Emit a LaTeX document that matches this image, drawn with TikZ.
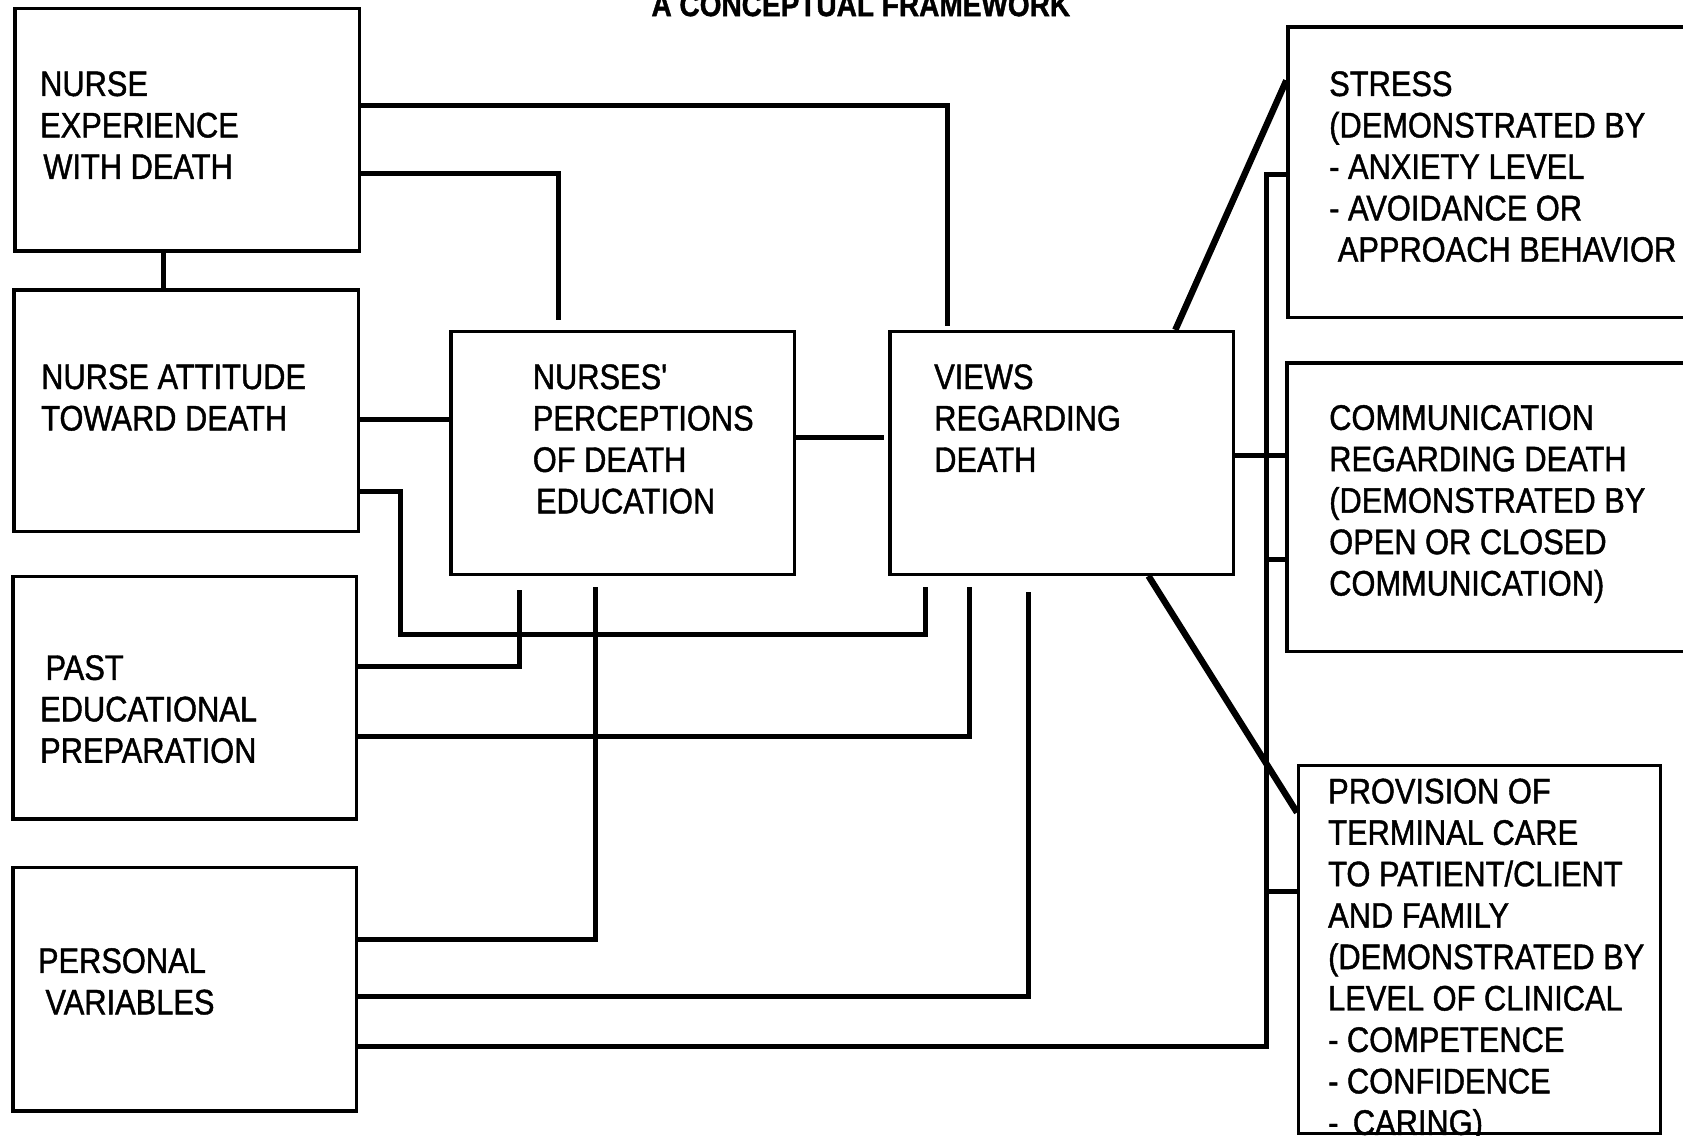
\documentclass[tikz,border=0pt]{standalone}
\usepackage{fontspec}
\setmainfont{Liberation Sans}[FakeStretch=0.87,FakeBold=1.2]
\begin{document}
\begin{tikzpicture}[x=0.5pt,y=-0.5pt,
  box/.style={draw, line width=1.6pt, inner sep=0pt},
  lbl/.style={anchor=north west, inner sep=0pt, align=left, font=\fontsize{16.5}{19.3}\selectfont},
  wire/.style={line width=2.3pt},
  diag/.style={line width=3pt}]
\useasboundingbox (0,0) rectangle (1568,1058);
\fill[white] (0,0) rectangle (1568,1058);
% title
\node[font=\fontsize{15}{15}\selectfont\bfseries, anchor=base, inner sep=0pt] (title) at (802,15) {A CONCEPTUAL FRAMEWORK};
% boxes
\node[box, minimum width=160.5pt, minimum height=113pt] (A) at (174.5,121) {};
\node[box, minimum width=160.5pt, minimum height=112.5pt] (B) at (173.5,382.5) {};
\node[box, minimum width=160pt, minimum height=113pt] (C) at (172,650) {};
\node[box, minimum width=160pt, minimum height=113.5pt] (D) at (172,921.5) {};
\node[box, minimum width=160pt, minimum height=113pt] (E) at (580,422) {};
\node[box, minimum width=160pt, minimum height=113pt] (F) at (989,422) {};
\node[box, minimum width=195pt, minimum height=135.5pt] (G) at (1395,160.5) {};
\node[box, minimum width=195.5pt, minimum height=134.5pt] (H) at (1394.5,472.5) {};
\node[box, minimum width=168.5pt, minimum height=171.5pt] (I) at (1378.5,884.5) {};
% texts
\node[lbl] (At) at (37,66) {NURSE\\EXPERIENCE\\\hspace*{1.5pt}WITH DEATH};
\node[lbl] (Bt) at (38,339) {NURSE ATTITUDE\\TOWARD DEATH};
\node[lbl] (Ct) at (37,610) {\hspace*{2.5pt}PAST\\EDUCATIONAL\\PREPARATION};
\node[lbl] (Dt) at (35,883) {PERSONAL\\\hspace*{3.5pt}VARIABLES};
\node[lbl] (Et) at (496,339) {NURSES\textquotesingle\\PERCEPTIONS\\OF DEATH\\\hspace*{1.5pt}EDUCATION};
\node[lbl] (Ft) at (870,339) {VIEWS\\REGARDING\\DEATH};
\node[lbl] (Gt) at (1238,66) {STRESS\\(DEMONSTRATED BY\\- ANXIETY LEVEL\\- AVOIDANCE OR\\\hspace*{4pt}APPROACH BEHAVIOR};
\node[lbl] (Ht) at (1238,377) {COMMUNICATION\\REGARDING DEATH\\(DEMONSTRATED BY\\OPEN OR CLOSED\\COMMUNICATION)};
\node[lbl] (It) at (1237,725) {PROVISION OF\\TERMINAL CARE\\TO PATIENT/CLIENT\\AND FAMILY\\(DEMONSTRATED BY\\LEVEL OF CLINICAL\\- COMPETENCE\\- CONFIDENCE\\- \,CARING)};
% connectors
\draw[wire, shorten >=2pt] (A.east |- 0,98) -| (883,0 |- F.north);
\draw[wire, shorten >=4.5pt] (A.east |- 0,162) -| (520,0 |- E.north);
\draw[wire] (A.south -| 152,0) -- (B.north -| 152,0);
\draw[wire] (B.east |- 0,391) -- (E.west |- 0,391);
\draw[wire, shorten >=2pt] (E.east |- 0,408) -- (F.west |- 0,408);
\draw[wire, shorten >=5pt] (B.east |- 0,458) -| (373,591) -| (862,0 |- F.south);
\draw[wire, shorten >=6.5pt] (C.east |- 0,621) -| (484,0 |- E.south);
\draw[wire, shorten >=5pt] (D.east |- 0,875) -| (555,0 |- E.south);
\draw[wire, shorten >=5pt] (C.east |- 0,686) -| (903,0 |- F.south);
\draw[wire, shorten >=7.5pt] (D.east |- 0,928) -| (958,0 |- F.south);
\coordinate (bustop) at (1180,163);
\draw[wire] (D.east |- 0,975) -| (bustop) -- (G.west |- bustop);
\draw[wire] (1180,521) -- (H.west |- 0,521);
\draw[wire] (1180,831) -- (I.west |- 0,831);
\draw[wire] (F.east |- 0,424) -- (H.west |- 0,424);
\draw[diag] (F.north -| 1095,0) -- (G.west |- 0,75);
\draw[diag] (F.south -| 1070,0) -- (I.west |- 0,757);
\end{tikzpicture}
\end{document}
